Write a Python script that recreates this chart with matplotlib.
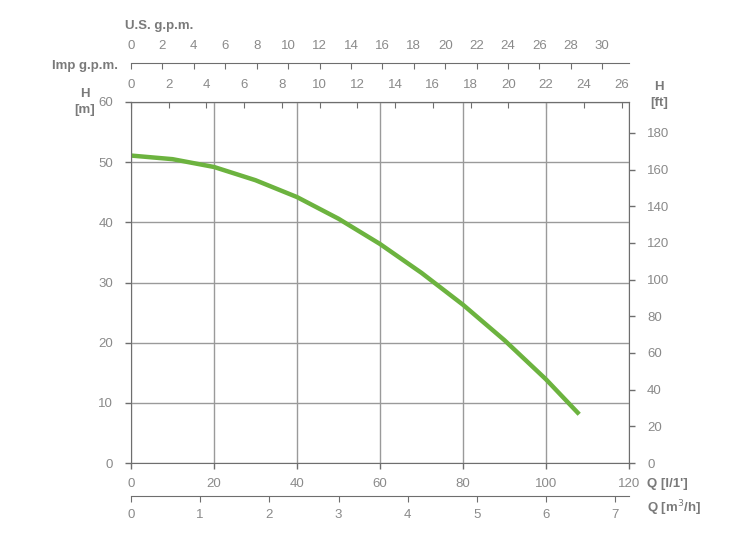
import numpy as np
import matplotlib.pyplot as plt

# Datos de la curva (Q en l/min, H en m)
q_lmin = [0, 10, 20, 30, 40, 50, 60, 70, 80, 90, 100, 108]
h_m = [51.1, 50.5, 49.2, 47.0, 44.2, 40.6, 36.4, 31.6, 26.3, 20.4, 13.9, 8.1]

ticks_lmin = [0, 20, 40, 60, 80, 100, 120]
ticks_m = [0, 10, 20, 30, 40, 50, 60]
ticks_ft = [0, 20, 40, 60, 80, 100, 120, 140, 160, 180]
ticks_imp = list(range(0, 27, 2))
ticks_us = list(range(0, 31, 2))
ticks_m3h = [0, 1, 2, 3, 4, 5, 6, 7]

GRIS = '#8a8a8a'
EJE = '#6e6e6e'
VERDE = '#6cb33f'

plt.rcParams['font.family'] = ['Liberation Sans', 'DejaVu Sans']

fig = plt.figure(figsize=(7.49, 5.41), dpi=100)
ax = fig.add_axes([131 / 749, 78 / 541, 498 / 749, 361 / 541])

ax.plot(q_lmin, h_m, color=VERDE, lw=3.2, solid_capstyle='butt', solid_joinstyle='round')
ax.set_xlim(0, 120)
ax.set_ylim(0, 60)
ax.set_xticks(ticks_lmin)
ax.set_yticks(ticks_m)
ax.grid(True, color='#9a9a9a', lw=1)
ax.set_axisbelow(True)
for s in ax.spines.values():
    s.set_color(EJE)
ax.tick_params(colors=EJE, labelcolor=GRIS, labelsize=9.5, length=4, width=1)
ax.tick_params(axis='x', pad=7)
ax.tick_params(axis='y', pad=9)

# Eje derecho en pies
ax2 = ax.twinx()
ax2.set_ylim(0, 60 / 0.3048)
ax2.set_yticks(ticks_ft)
for s in ax2.spines.values():
    s.set_visible(False)
ax2.tick_params(colors=EJE, labelcolor=GRIS, labelsize=9.5, length=4, width=1, pad=9)

# Eje superior: galones imperiales
lmin_imp = 4.54609
top1 = ax.secondary_xaxis('top', functions=(lambda x: x / lmin_imp, lambda x: x * lmin_imp))
top1.set_xticks(ticks_imp)
top1.spines['top'].set_color(EJE)
top1.tick_params(direction='in', colors=EJE, labelcolor=GRIS, labelsize=9.5, length=4, pad=8)

# Eje superior: galones US
lmin_us = 3.78541
top2 = ax.secondary_xaxis(1 + 39 / 361, functions=(lambda x: x / lmin_us, lambda x: x * lmin_us))
top2.set_xticks(ticks_us)
top2.spines['top'].set_color(EJE)
top2.tick_params(direction='in', colors=EJE, labelcolor=GRIS, labelsize=9.5, length=4, pad=8)

# Eje inferior: m3/h
bot = ax.secondary_xaxis(-33 / 361, functions=(lambda x: x * 0.06, lambda x: x / 0.06))
bot.set_xticks(ticks_m3h)
bot.spines['bottom'].set_color(EJE)
bot.tick_params(colors=EJE, labelcolor=GRIS, labelsize=9.5, length=4, pad=5)

kw = dict(color='#7a7a7a', fontsize=9.5, fontweight='bold')
fig.text(85 / 749, 1 - 102 / 541, 'H\n[m]', ha='center', va='center', linespacing=1.5, **kw)
fig.text(659 / 749, 1 - 95 / 541, 'H\n[ft]', ha='center', va='center', linespacing=1.5, **kw)
fig.text(647 / 749, 1 - 484 / 541, "Q [l/1']", ha='left', va='center', **kw)
fig.text(647 / 749, 1 - 508 / 541, 'Q [m$^3$/h]', ha='left', va='center', **kw)
fig.text(118 / 749, 1 - 66 / 541, 'Imp g.p.m.', ha='right', va='center', **kw)
fig.text(125 / 749, 1 - 26 / 541, 'U.S. g.p.m.', ha='left', va='center', **kw)

fig.savefig('out.png', dpi=100)
